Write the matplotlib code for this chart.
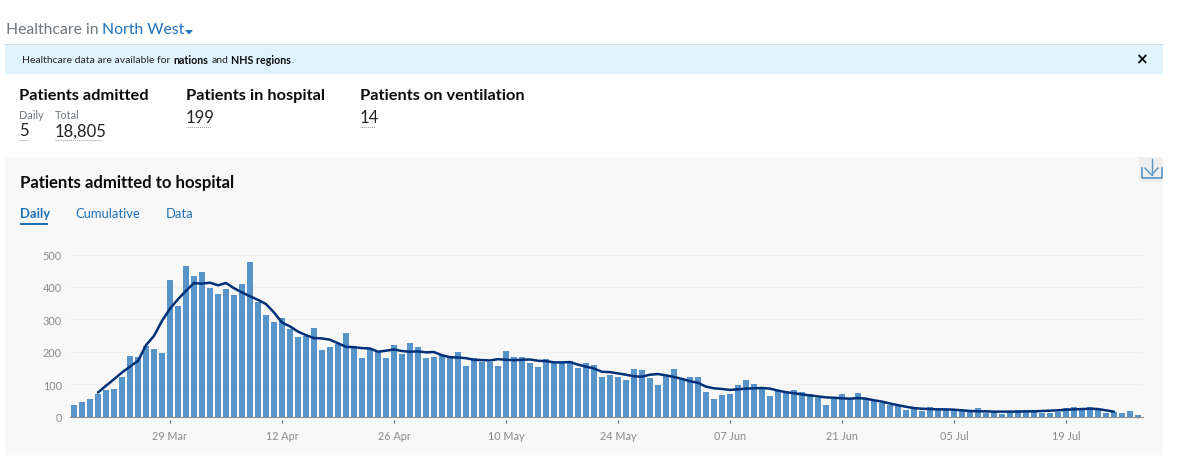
import numpy as np
import pandas as pd
import matplotlib.pyplot as plt
import matplotlib.dates as mdates
from matplotlib.patches import Rectangle, Polygon

plt.rcParams['font.family'] = ['Lato', 'DejaVu Sans']

# daily admissions, 17 Mar to 28 Jul
admitted = [35, 46, 55, 70, 82, 85, 121, 187, 183, 218, 209, 197,
            420, 342, 466, 434, 446, 398, 379, 392, 375, 410, 477, 352, 313, 293,
            304, 269, 246, 250, 272, 206, 213, 223, 259, 216, 181, 208, 200, 180,
            221, 193, 226, 213, 180, 185, 191, 183, 200, 157, 181, 168, 167, 155,
            202, 185, 185, 164, 152, 177, 165, 169, 172, 151, 164, 158, 123, 127,
            121, 112, 148, 144, 120, 97, 124, 148, 116, 121, 123, 75, 55, 66,
            68, 98, 113, 101, 86, 63, 81, 75, 82, 76, 70, 57, 34, 56,
            68, 55, 71, 55, 49, 43, 36, 34, 21, 26, 17, 30, 21, 22,
            21, 18, 18, 25, 11, 15, 9, 16, 20, 17, 21, 11, 11, 15,
            27, 28, 22, 28, 22, 11, 14, 11, 16, 4]

# rolling average line, 20 Mar to 25 Jul
average = [74, 95, 115, 136, 154, 172, 220, 249, 295,
           333, 362, 388, 412, 410, 413, 405, 412, 396, 383, 371, 360, 347, 321,
           290, 278, 262, 251, 242, 241, 237, 226, 215, 214, 211, 210, 200, 203,
           207, 202, 200, 201, 198, 199, 189, 183, 182, 180, 175, 174, 173, 177,
           175, 174, 175, 176, 172, 171, 167, 167, 168, 160, 154, 148, 138, 137,
           133, 129, 124, 123, 129, 131, 127, 122, 116, 109, 104, 92, 87, 85,
           82, 84, 86, 87, 88, 86, 80, 75, 72, 68, 65, 62, 59, 58,
           56, 55, 57, 55, 50, 46, 40, 35, 30, 26, 24, 23, 22, 22,
           21, 19, 17, 16, 16, 15, 15, 15, 15, 16, 16, 17, 18, 19,
           21, 22, 23, 24, 23, 19, 15]

bar_dates = pd.date_range('2020-03-17', periods=len(admitted))
line_dates = pd.date_range('2020-03-20', periods=len(average))
tick_dates = pd.date_range('2020-03-29', '2020-07-19', freq='14D')
tick_labels = ['29 Mar', '12 Apr', '26 Apr', '10 May', '24 May', '07 Jun', '21 Jun', '05 Jul', '19 Jul']
y_ticks = [0, 100, 200, 300, 400, 500]

W, H = 1199, 456
BLUE = '#1d70b8'
GREY = '#6f777b'
fig = plt.figure(figsize=(W / 100, H / 100), dpi=100, facecolor='white')

# page furniture, in pixel coordinates
page = fig.add_axes([0, 0, 1, 1])
page.set_xlim(0, W)
page.set_ylim(H, 0)
page.axis('off')

page.add_patch(Rectangle((5, 45.5), 1158, 29, color='#e1f3fd', lw=0))
page.add_patch(Rectangle((5, 44.5), 1158, 1.5, color='#d5dde1', lw=0))
page.add_patch(Rectangle((5, 157.5), 1158, 299, color='#f8f8f8', lw=0))
page.add_patch(Rectangle((1139, 157.5), 24, 25, color='#eeeeee', lw=0))


def label(x, y, s, size, color='#0b0c0c', weight='normal'):
    page.text(x, y + 0.5, s, fontsize=size, color=color, fontweight=weight, va='center', ha='left')


label(6, 29, 'Healthcare in', 11.3, GREY)
label(102, 29, 'North West', 11.3, BLUE)
page.add_patch(Polygon([(185, 31), (193, 31), (189, 35.5)], color=BLUE, lw=0))

label(22, 60, 'Healthcare data are available for', 7.5, '#222222')
label(173.5, 60, 'nations', 7.7, '#0b0c0c', 'bold')
label(211.5, 60, 'and', 7.5, '#222222')
label(231, 60, 'NHS regions', 7.7, '#0b0c0c', 'bold')
label(291, 60, '.', 7.5, '#222222')
page.text(1141, 60, '\u00d7', fontsize=11, fontweight='bold', color='#0b0c0c', ha='center', va='center',
          family='DejaVu Sans')

label(19, 96, 'Patients admitted', 11.8, '#0b0c0c', 'bold')
label(186, 96, 'Patients in hospital', 11.8, '#0b0c0c', 'bold')
label(360, 96, 'Patients on ventilation', 11.8, '#0b0c0c', 'bold')
label(19, 115, 'Daily', 7.8, GREY)
label(55, 115, 'Total', 7.8, GREY)
label(19, 131, '5', 12, '#222222')
label(55, 131, '18,805', 12, '#222222')
label(186, 118, '199', 12, '#222222')
label(360, 118, '14', 12, '#222222')
for x0, x1, y in [(19, 28, 140.5), (55, 102, 140.5), (186, 210, 127.5), (360, 375, 127.5)]:
    page.plot([x0, x1], [y, y], color='#999999', lw=0.7, ls=(0, (1, 1)))

label(20, 183, 'Patients admitted to hospital', 12.1, '#0b0c0c', 'bold')
label(20, 214, 'Daily', 9.4, BLUE, 'bold')
label(75, 214, 'Cumulative', 9.4, BLUE)
label(166, 214, 'Data', 9.4, BLUE)
page.add_patch(Rectangle((20, 223.5), 28, 2.5, color=BLUE, lw=0))

# download icon
page.plot([1141.5, 1141.5, 1161.5, 1161.5], [169, 178.5, 178.5, 169], color='#5694ca', lw=1.2)
page.plot([1151.5, 1151.5], [160, 176], color='#5694ca', lw=1)
page.plot([1145, 1151.5, 1158], [169, 176, 169], color='#5694ca', lw=1)

# chart
x0, x1, y0, y500 = 70, 1143, 417.5, 255.5
ax = fig.add_axes([x0 / W, 1 - y0 / H, (x1 - x0) / W, (y0 - y500) / H])
ax.patch.set_alpha(0)
ax.bar(bar_dates, admitted, width=0.84, color='#5694ca', zorder=2)
ax.plot(line_dates, average, color='#003078', lw=1.8, zorder=3, solid_capstyle='round')

start = mdates.date2num(pd.Timestamp('2020-03-29')) - 100 / 8
ax.set_xlim(start, start + (x1 - x0) / 8)
ax.set_ylim(0, 500)
ax.set_yticks(y_ticks)
ax.grid(axis='y', color='#efefef', lw=0.8, zorder=0)
ax.set_axisbelow(True)
for side in ['top', 'right', 'left']:
    ax.spines[side].set_visible(False)
ax.spines['bottom'].set_color('#8a8a8a')
ax.spines['bottom'].set_linewidth(0.8)
ax.tick_params(axis='y', length=0, pad=6, labelsize=7.8, labelcolor='#8a8a8a')

ax.set_xticks(tick_dates)
ax.set_xticklabels(tick_labels)
ax.set_xticks(mdates.date2num(bar_dates), minor=True)
ax.tick_params(axis='x', which='major', length=0, pad=10, labelsize=7.8, labelcolor='#8a8a8a')
ax.tick_params(axis='x', which='minor', length=1, width=0.6, color='#8a8a8a')
ax.vlines(tick_dates, -11, -21, color='#707070', lw=0.9, clip_on=False)

fig.savefig('out.png', dpi=100)
